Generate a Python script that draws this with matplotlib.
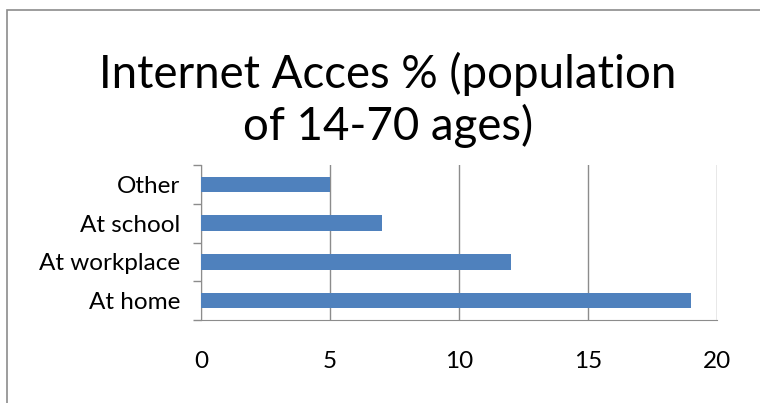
import numpy as np
import matplotlib.pyplot as plt
from matplotlib.patches import Rectangle

categories = ['At home', 'At workplace', 'At school', 'Other']
values = [19, 12, 7, 5]
x_ticks = [0, 5, 10, 15, 20]

plt.rcParams['font.family'] = ['Lato', 'DejaVu Sans']

fig = plt.figure(figsize=(7.6, 4.03), dpi=100)
W, H = 760.0, 403.0

# chart border (cut off at right and bottom like the screenshot)
fig.patches.append(Rectangle((7 / W, -0.1), 1.2, 1 - 10 / H + 0.1, transform=fig.transFigure,
                             fill=False, edgecolor='#8c8c8c', linewidth=1.2))

# plot area in pixels: x 201..717, y 165..320
ax = fig.add_axes([201 / W, 1 - 320 / H, (717 - 201) / W, (320 - 165) / H])
pos = np.arange(len(categories))
ax.barh(pos, values, height=0.4, color='#4F81BD', zorder=3)
ax.set_xlim(0, 20)
ax.set_ylim(-0.5, len(categories) - 0.5)
ax.set_xticks(x_ticks)
ax.set_xticklabels([str(t) for t in x_ticks])
ax.set_yticks(pos)
ax.set_yticklabels(categories)
ax.tick_params(axis='y', length=0, pad=15, labelsize=17.5)
ax.tick_params(axis='x', length=0, pad=22, labelsize=17.5)

# category boundary ticks on the left
ax.set_yticks(np.arange(-0.5, len(categories), 1), minor=True)
ax.tick_params(axis='y', which='minor', length=6, color='#8c8c8c', width=1)

for t in x_ticks:
    ax.axvline(t, color='#8c8c8c', linewidth=1, zorder=1)
for s in ['top', 'right']:
    ax.spines[s].set_visible(False)
ax.spines['left'].set_color('#8c8c8c')
ax.spines['bottom'].set_color('#8c8c8c')

fig.text(388 / W, 1 - 88 / H, 'Internet Acces % (population', ha='center', va='baseline',
         fontsize=32.9, color='black')
fig.text(388 / W, 1 - 140 / H, 'of 14-70 ages)', ha='center', va='baseline',
         fontsize=32.9, color='black')

fig.savefig('out.png', dpi=100)
